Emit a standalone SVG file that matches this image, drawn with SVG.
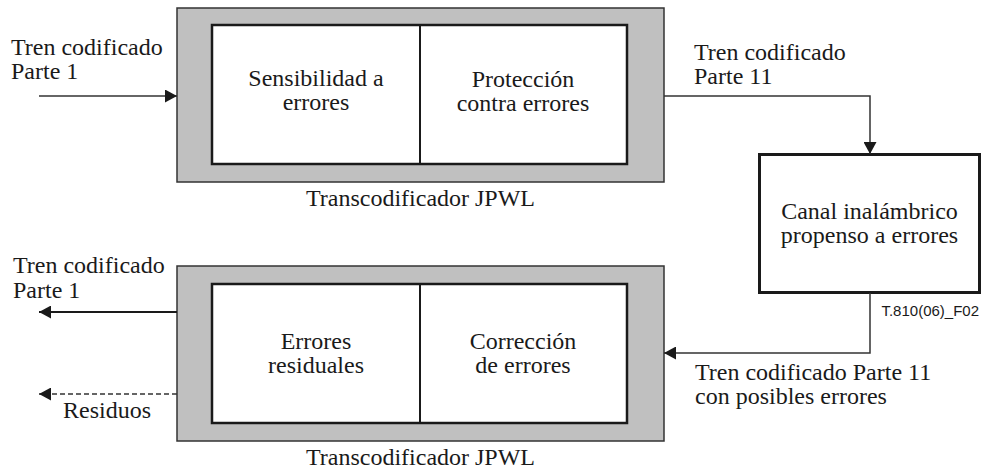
<svg xmlns="http://www.w3.org/2000/svg" width="986" height="473" viewBox="0 0 986 473">
<style>
text{font-family:'Liberation Serif','Times New Roman','DejaVu Serif',serif;font-size:24px;fill:#1a1a1a}
.c{text-anchor:middle}
.s{font-family:'Liberation Sans',Arial,'DejaVu Sans',sans-serif;font-size:15px;text-anchor:end}
.outer{fill:#c0c0c0;stroke:#333;stroke-width:1.5}
.inner{fill:#fff;stroke:#1a1a1a;stroke-width:2.5}
.div{stroke:#1a1a1a;stroke-width:2}
.ln{fill:none;stroke:#333;stroke-width:1.5}
.lnb{fill:none;stroke:#1a1a1a;stroke-width:2.2}
</style>
<defs>
<marker id="ah" markerWidth="12" markerHeight="13" refX="12" refY="6.5" orient="auto" markerUnits="userSpaceOnUse">
<path d="M0,0 L12,6.5 L0,13 Z" fill="#1a1a1a"/>
</marker>
</defs>
<rect width="986" height="473" fill="#fff"/>

<g id="transcoder-top">
<rect class="outer" x="177" y="8" width="487" height="174"/>
<rect class="inner" x="212" y="25" width="415" height="139"/>
<line class="div" x1="420" y1="25" x2="420" y2="164"/>
<text class="c" x="420.5" y="206" font-family="Liberation Serif, serif">Transcodificador JPWL</text>
</g>
<g id="sensibilidad" font-family="Liberation Serif, serif">
<text class="c" x="316" y="86">Sensibilidad a</text>
<text class="c" x="316" y="110">errores</text>
</g>
<g id="proteccion">
<text class="c" x="523" y="87">Protección</text>
<text class="c" x="523" y="111">contra errores</text>
</g>

<g id="canal">
<rect x="759.5" y="154.5" width="220" height="138" fill="#fff" stroke="#1a1a1a" stroke-width="3"/>
<text class="c" x="869.5" y="219">Canal inalámbrico</text>
<text class="c" x="869.5" y="243">propenso a errores</text>
</g>

<g id="transcoder-bottom">
<rect class="outer" x="177" y="266" width="487" height="175"/>
<rect class="inner" x="212" y="284" width="415" height="139"/>
<line class="div" x1="420" y1="284" x2="420" y2="423"/>
<text class="c" x="420.5" y="465">Transcodificador JPWL</text>
</g>
<g id="errores-residuales">
<text class="c" x="316" y="349">Errores</text>
<text class="c" x="316" y="373">residuales</text>
</g>
<g id="correccion">
<text class="c" x="523" y="349">Corrección</text>
<text class="c" x="523" y="373">de errores</text>
</g>

<g id="connectors">
<line class="ln" x1="39" y1="96" x2="177" y2="96" marker-end="url(#ah)"/>
<polyline class="ln" points="664,96 870,96 870,154" marker-end="url(#ah)"/>
<polyline class="ln" points="870,293 870,353 664,353" marker-end="url(#ah)"/>
<line class="lnb" x1="177" y1="312" x2="39" y2="312" marker-end="url(#ah)"/>
<line class="ln" x1="177" y1="394" x2="39" y2="394" stroke-dasharray="5,3" marker-end="url(#ah)"/>
</g>

<g id="labels">
<text x="11" y="55">Tren codificado</text>
<text x="11" y="79">Parte 1</text>
<text x="694" y="60">Tren codificado</text>
<text x="694" y="84">Parte 11</text>
<text x="13" y="273">Tren codificado</text>
<text x="13" y="298">Parte 1</text>
<text x="63" y="418">Residuos</text>
<text x="695" y="380">Tren codificado Parte 11</text>
<text x="695" y="404">con posibles errores</text>
<text class="s" x="979" y="316">T.810(06)_F02</text>
</g>
</svg>
